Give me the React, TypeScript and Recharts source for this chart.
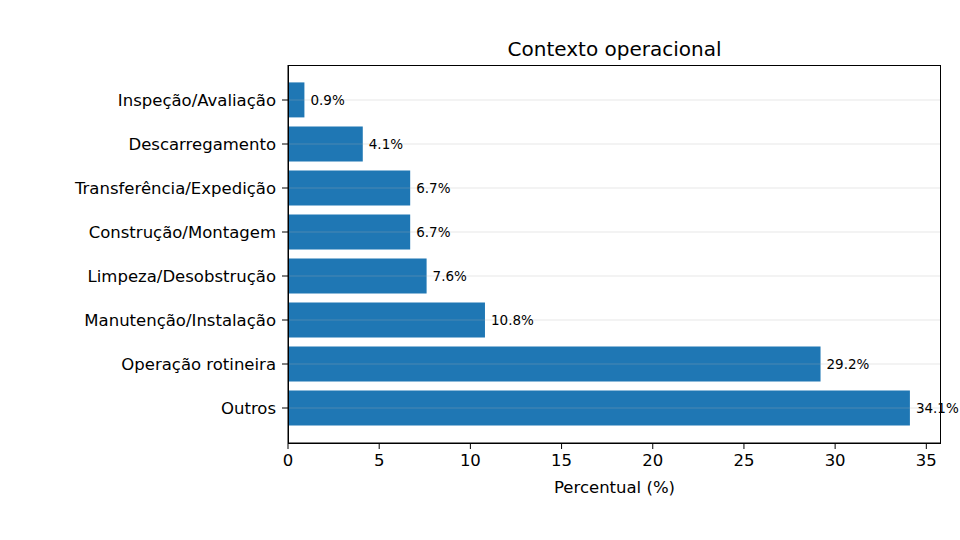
import { BarChart, Bar, XAxis, YAxis, ReferenceLine, LabelList } from 'recharts';

const categories = [
	'Inspeção/Avaliação',
	'Descarregamento',
	'Transferência/Expedição',
	'Construção/Montagem',
	'Limpeza/Desobstrução',
	'Manutenção/Instalação',
	'Operação rotineira',
	'Outros',
];
const percentages = [0.9, 4.1, 6.7, 6.7, 7.6, 10.8, 29.2, 34.1];
const xTicks = [0, 5, 10, 15, 20, 25, 30, 35];

const data = categories.map((name, i) => ({ name, value: percentages[i] }));

const font = 'DejaVu Sans, sans-serif';
const blue = '#1f77b4';

export default function App() {
	return (
		<div style={{ position: 'absolute', top: 0, left: 0, width: 960, height: 540, background: '#fff', fontFamily: font }}>
			<div
				style={{
					position: 'absolute',
					top: 36,
					left: 288,
					width: 653,
					textAlign: 'center',
					fontSize: 20,
					lineHeight: '26px',
					color: '#000',
				}}
			>
				Contexto operacional
			</div>
			<BarChart
				width={960}
				height={540}
				data={data}
				layout="vertical"
				margin={{ top: 65, right: 19, bottom: 67, left: 68 }}
				barCategoryGap="10%"
			>
				<XAxis
					type="number"
					dataKey="value"
					domain={[0, 35.805]}
					ticks={xTicks}
					allowDataOverflow
					height={30}
					tickSize={6}
					tickMargin={5}
					tick={{ fill: '#000', fontSize: 16.5, fontFamily: font }}
					tickLine={{ stroke: '#000' }}
					axisLine={{ stroke: '#000' }}
					label={{ value: 'Percentual (%)', position: 'insideBottom', offset: -20, fill: '#000', fontSize: 16.5, fontFamily: font }}
				/>
				<YAxis
					type="category"
					dataKey="name"
					width={220}
					padding={{ top: 13, bottom: 13 }}
					tickSize={6}
					tickMargin={6}
					tick={{ fill: '#000', fontSize: 16.5, fontFamily: font }}
					tickLine={{ stroke: '#000' }}
					axisLine={{ stroke: '#000' }}
					interval={0}
				/>
				<Bar dataKey="value" fill={blue} isAnimationActive={false}>
					<LabelList
						dataKey="value"
						position="right"
						offset={6}
						formatter={(v: any) => `${Number(v).toFixed(1)}%`}
						style={{ fill: '#000', fontSize: 13.5, fontFamily: font }}
					/>
				</Bar>
				{categories.map((c) => (
					<ReferenceLine key={c} y={c} stroke="#b0b0b0" strokeOpacity={0.3} strokeWidth={1} />
				))}
			</BarChart>
			<div
				style={{
					position: 'absolute',
					top: 65,
					left: 288,
					width: 653,
					height: 379,
					border: '1px solid #000',
					boxSizing: 'border-box',
					pointerEvents: 'none',
				}}
			/>
		</div>
	);
}
